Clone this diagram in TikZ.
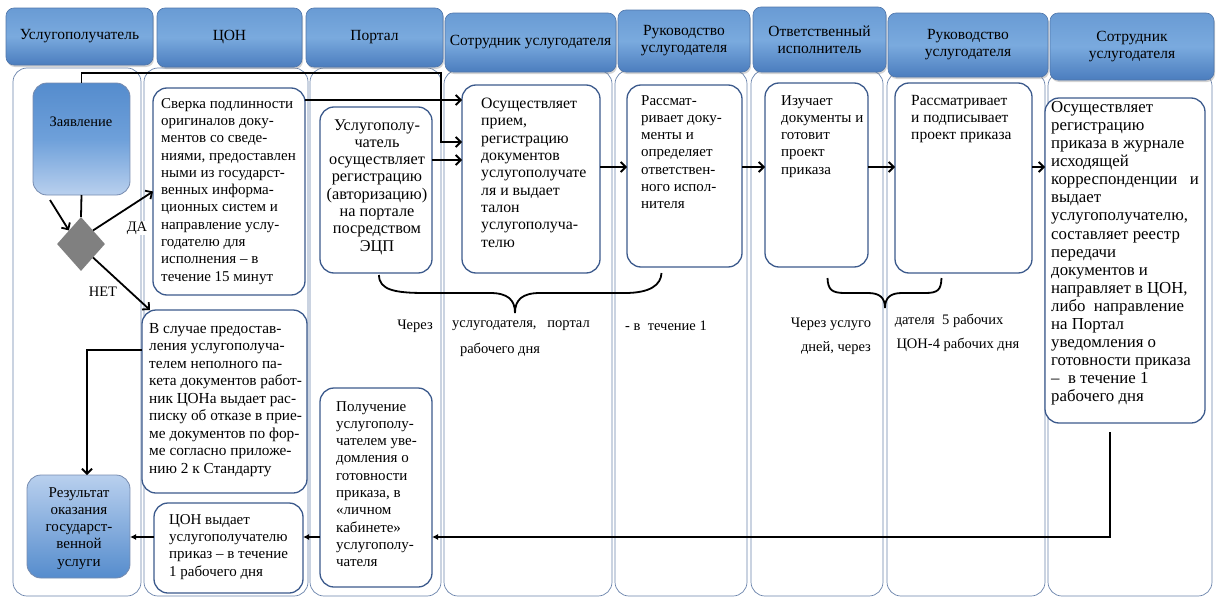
\documentclass[tikz,border=0pt]{standalone}
\usepackage{fontspec}
\setmainfont{Liberation Serif}
\newfontfamily\tnr{Liberation Serif}
\usetikzlibrary{arrows.meta,shapes.geometric,shadows}
\definecolor{lanec}{RGB}{105,130,170}
\definecolor{boxc}{RGB}{60,90,140}
\definecolor{hdrtop}{RGB}{105,155,212}
\definecolor{hdrmid}{RGB}{122,170,222}
\definecolor{hdrbot}{RGB}{75,125,190}
\definecolor{hdrline}{RGB}{80,118,170}
\definecolor{diac}{RGB}{128,128,128}
\definecolor{gbdark}{RGB}{85,140,205}
\definecolor{gbmid}{RGB}{110,160,218}
\definecolor{gblight}{RGB}{185,208,238}
\newcommand\rbox[7]{\node[#1, minimum width={#4-#2}, minimum height={#5-#3}] (#6) at ({(#2+#4)/2},{(#3+#5)/2}) {#7};}
\begin{document}
\begin{tikzpicture}[x=1pt,y=-1pt,
  lane/.style={draw=lanec, line width=0.7pt, rounded corners=14pt, inner sep=0pt, outer sep=0pt},
  hdr/.style={draw=hdrline, line width=0.6pt, rounded corners=8pt, top color=hdrtop, bottom color=hdrbot, middle color=hdrmid,
    drop shadow={opacity=0.35, shadow xshift=1pt, shadow yshift=-2pt},
    font=\tnr\fontsize{15.5}{17}\selectfont, align=center, inner sep=0pt, outer sep=0pt},
  wbox/.style={draw=boxc, line width=1.3pt, rounded corners=14pt, fill=white, inner sep=0pt, outer sep=0pt},
  gboxA/.style={draw=boxc!70, line width=0.8pt, rounded corners=14pt, top color=gbdark, bottom color=gblight, middle color=gbmid, inner sep=0pt, outer sep=0pt},
  gboxB/.style={draw=boxc!70, line width=0.8pt, rounded corners=14pt, top color=gblight, bottom color=gbdark, inner sep=0pt, outer sep=0pt},
  tl/.style={anchor=north west, align=left, inner sep=0pt, font=\tnr\fontsize{15}{17.3}\selectfont},
  tc/.style={align=center, inner sep=0pt, font=\tnr\fontsize{15}{17.3}\selectfont},
  lbl/.style={inner sep=1pt, font=\tnr\fontsize{14.5}{16}\selectfont},
  arr/.style={-{Straight Barb[length=5pt,width=10pt]}, line width=1.8pt},
  arrs/.style={-{Latex[length=6pt,width=6pt]}, line width=1.6pt},
  brc/.style={line width=1.8pt}]
\useasboundingbox (0,0) rectangle (1216,597);
% lanes
\rbox{lane}{13}{68}{141}{596}{l1}{}
\rbox{lane}{144}{68}{308}{596}{l2}{}
\rbox{lane}{310}{68}{441}{596}{l3}{}
\rbox{lane}{444}{70}{612}{596}{l4}{}
\rbox{lane}{615}{70}{747}{596}{l5}{}
\rbox{lane}{751}{70}{883}{596}{l6}{}
\rbox{lane}{887}{72}{1045}{596}{l7}{}
\rbox{lane}{1048}{72}{1212}{596}{l8}{}
% headers
\rbox{hdr}{6}{8}{153}{65}{h1}{Услугополучатель}
\rbox{hdr}{157}{8}{302}{67}{h2}{ЦОН}
\rbox{hdr}{306}{8}{443}{67}{h3}{Портал}
\rbox{hdr}{445}{13}{616}{72}{h4}{Сотрудник услугодателя}
\rbox{hdr}{618}{10}{750}{72}{h5}{Руководство\\услугодателя}
\rbox{hdr}{753}{7}{886}{72}{h6}{Ответственный\\исполнитель}
\rbox{hdr}{888}{13}{1048}{77}{h7}{Руководство\\услугодателя}
\rbox{hdr}{1050}{13}{1214}{80}{h8}{Сотрудник\\услугодателя}
% boxes
\rbox{gboxA}{33}{83}{130}{195}{zay}{}
\node[lbl] (zay-t) at (81,122) {Заявление};
\node[diamond, fill=diac, inner sep=0pt, minimum width=48pt, minimum height=54pt] (dia) at (81,244) {};
\rbox{wbox}{153}{88}{305}{295}{sverka}{}
\rbox{wbox}{320}{107}{432}{273}{portal}{}
\rbox{wbox}{462}{85}{600}{273}{osush}{}
\rbox{wbox}{627}{85}{742}{267}{rassm}{}
\rbox{wbox}{765}{83}{868}{267}{izuch}{}
\rbox{wbox}{895}{83}{1032}{273}{podp}{}
\rbox{wbox}{1045}{98}{1205}{423}{lvosem}{}
\rbox{wbox}{320}{388}{432}{587}{poluch}{}
\rbox{wbox}{154}{503}{303}{593}{cvyd}{}
\rbox{wbox}{142}{310}{307}{493}{vsl}{}
\rbox{gboxB}{27}{475}{130}{578}{result}{}
% texts
\node[tl] (sverka-t) at (161,98) {Сверка подлинности\\оригиналов доку-\\ментов со сведе-\\ниями, предоставлен\\ными из государст-\\венных информа-\\ционных систем и\\направление услу-\\годателю для\\исполнения – в\\течение 15 минут};
\node[tc, font=\tnr\fontsize{16.3}{17.3}\selectfont] (portal-t) at (377,187) {Услугополу-\\чатель\\осуществляет\\регистрацию\\(авторизацию)\\на портале\\посредством\\ЭЦП};
\node[tl, font=\tnr\fontsize{15.8}{17.3}\selectfont] (osush-t) at (481,98) {Осуществляет\\прием,\\регистрацию\\документов\\услугополучате\\ля и выдает\\талон\\услугополуча-\\телю};
\node[tl] (rassm-t) at (641,95) {Рассмат-\\ривает доку-\\менты и\\определяет\\ответствен-\\ного испол-\\нителя};
\node[tl] (izuch-t) at (781,95) {Изучает\\документы и\\готовит\\проект\\приказа};
\node[tl, font=\tnr\fontsize{15.5}{17.3}\selectfont] (podp-t) at (911,95) {Рассматривает\\и подписывает\\проект приказа};
\node[tl, font=\tnr\fontsize{16.8}{18.1}\selectfont] (lvosem-t) at (1051,101) {Осуществляет\\регистрацию\\приказа в журнале\\исходящей\\корреспонденции \ \ и\\выдает\\услугополучателю,\\составляет реестр\\передачи\\документов и\\направляет в ЦОН,\\либо \ направление\\на Портал\\уведомления о\\готовности приказа\\– \ в течение 1\\рабочего дня};
\node[tl] (poluch-t) at (336,401) {Получение\\услугополу-\\чателем уве-\\домления о\\готовности\\приказа, в\\«личном\\кабинете»\\услугополу-\\чателя};
\node[tl] (cvyd-t) at (169,514) {ЦОН выдает\\услугополучателю\\приказ – в течение\\1 рабочего дня};
\node[tl, font=\tnr\fontsize{15.3}{17.5}\selectfont] (vsl-t) at (149,323) {В случае предостав-\\ления услугополуча-\\телем неполного па-\\кета документов работ-\\ник ЦОНа выдает рас-\\писку об отказе в прие-\\ме документов по фор-\\ме согласно приложе-\\нию 2 к Стандарту};
\begin{scope}
\clip (20,470) rectangle (140,568);
\node[tc, anchor=north] (result-t) at (79,487) {Результат\\оказания\\государст-\\венной\\услуги};
\end{scope}
% labels
\node[lbl, fill=white] (da) at (137,228) {ДА};
\node[lbl] (net) at (103,292) {НЕТ};
\node[lbl] (n1) at (415,326) {Через};
\node[lbl] (n2) at (521,326) {услугодателя,\ \ \ портал};
\node[lbl] (n3) at (500,350) {рабочего дня};
\node[lbl] (n4) at (666,326) {- в \ течение 1};
\node[lbl] (n5) at (831,324) {Через услуго};
\node[lbl] (n6) at (836,348) {дней, через};
\node[lbl] (n7) at (949,321) {дателя \ 5 рабочих};
\node[lbl] (n8) at (958,345) {ЦОН-4 рабочих дня};
% connectors
\coordinate (ytop) at (441,73);
\draw[arr] (zay.north) |- (ytop) |- ([yshift=37pt]osush.west);
\coordinate (s1) at ([yshift=91.5pt]sverka.east);
\draw[arr] (s1) -- (s1 -| osush.west);
\coordinate (p1) at ([yshift=30pt]portal.east);
\draw[arr] (p1) -- (p1 -| osush.west);
\coordinate (y167) at (0,167);
\draw[arr] (osush.east |- y167) -- (rassm.west |- y167);
\draw[arr] (rassm.east |- y167) -- (izuch.west |- y167);
\draw[arr] (izuch.east |- y167) -- (podp.west |- y167);
\draw[arr] (podp.east |- y167) -- (lvosem.west |- y167);
\coordinate (y537) at (0,537);
\draw[arrs] ([xshift=-15pt,yshift=-9pt]lvosem.south) |- (poluch.east |- y537);
\draw[arrs] (poluch.west |- y537) -- (cvyd.east |- y537);
\draw[arrs] (cvyd.west |- y537) -- (result.east |- y537);
\coordinate (y350) at (0,350);
\draw[arr] (vsl.west |- y350) -| ([xshift=8.5pt]result.north);
\draw[line width=1.8pt] (zay.south) -- (dia.north);
\coordinate (dg) at (50,200);
\draw[arr] (dg) -- (dia.north west);
\draw[arr] (dia.north east) -- (sverka.west);
\draw[arr] (dia.south east) -- ([xshift=8pt]vsl.north west);
% braces
\draw[brc] ([xshift=3pt,yshift=-2pt]portal.south) .. controls (379,290) and (395,293) .. (425,293) -- (490,293) .. controls (508,293) and (515,300) .. (515,313) .. controls (515,300) and (522,293) .. (540,293) -- (625,293) .. controls (650,293) and (661,285) .. ([xshift=-23pt,yshift=-6pt]rassm.south);
\draw[brc] ([xshift=11pt,yshift=-11pt]izuch.south) .. controls (828,290) and (832,293) .. (845,293) -- (868,293) .. controls (880,293) and (885,298) .. (885,308) .. controls (885,298) and (890,293) .. (902,293) -- (925,293) .. controls (938,293) and (941,290) .. ([xshift=-22pt,yshift=-5pt]podp.south);
\end{tikzpicture}
\end{document}
